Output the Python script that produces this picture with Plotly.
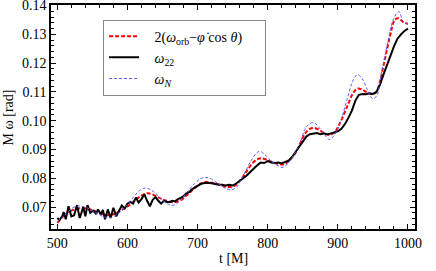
import plotly.graph_objects as go

# ---- data ----
t_black = [500, 503, 507, 509, 512, 516, 520, 524, 528, 532, 535, 537, 540, 543, 547, 551, 555, 558,
           562, 565, 568, 572, 576, 580, 584, 588, 592, 596, 600, 604, 608, 612, 616, 620, 624, 628,
           632, 636, 640, 644, 648, 652, 656, 660, 664, 668, 672, 676, 680, 684, 688, 692, 696, 700,
           705, 710, 715, 720, 725, 730, 735, 740, 745, 750, 755, 760, 765, 770, 775, 780, 785, 790,
           795, 800, 805, 810, 815, 820, 825, 830, 835, 840, 845, 850, 855, 860, 865, 870, 875, 880,
           885, 890, 895, 900, 905, 910, 915, 920, 925, 930, 935, 940, 945, 950, 955, 960, 965, 970,
           975, 980, 985, 990, 995, 1000]
omega_22 = [0.0662, 0.0655, 0.0668, 0.0683, 0.0658, 0.0703, 0.0668, 0.0672, 0.0707, 0.0662, 0.0685,
            0.0700, 0.0668, 0.0707, 0.0680, 0.0688, 0.0678, 0.0692, 0.0675, 0.0690, 0.0658, 0.0692,
            0.0662, 0.0698, 0.0668, 0.0690, 0.0706, 0.0695, 0.0712, 0.0718, 0.0712, 0.0733, 0.0716,
            0.0728, 0.0745, 0.0722, 0.0703, 0.0725, 0.0735, 0.0722, 0.0712, 0.0722, 0.0718, 0.0718,
            0.0722, 0.0720, 0.0728, 0.0732, 0.0738, 0.0748, 0.0752, 0.0762, 0.0768, 0.0775, 0.0781,
            0.0784, 0.0785, 0.0783, 0.0780, 0.0778, 0.0778, 0.0775, 0.0778, 0.0775, 0.0782, 0.0790,
            0.0800, 0.0810, 0.0822, 0.0835, 0.0845, 0.0855, 0.0853, 0.0860, 0.0855, 0.0853, 0.0855,
            0.0852, 0.0858, 0.0862, 0.0875, 0.0893, 0.0912, 0.0930, 0.0945, 0.0953, 0.0955, 0.0957,
            0.0953, 0.0956, 0.0952, 0.0955, 0.0960, 0.0963, 0.0972, 0.0988, 0.1010, 0.1035, 0.1070,
            0.1090, 0.1093, 0.1092, 0.1095, 0.1093, 0.1100, 0.1125, 0.1160, 0.1190, 0.1225, 0.1258,
            0.1285, 0.1300, 0.1312, 0.1320]

t_red = [500, 505, 510, 515, 520, 530, 540, 550, 560, 570, 580, 590, 600, 610, 620, 628, 635, 645,
         655, 665, 675, 685, 695, 705, 712, 720, 730, 740, 748, 755, 762, 770, 778, 785, 790, 797,
         805, 815, 822, 830, 838, 846, 853, 860, 866, 872, 880, 889, 896, 903, 913, 922, 928, 935,
         942, 950, 955, 960, 965, 974, 981, 986, 990, 995, 1000]
omega_orb_combo = [0.0645, 0.0660, 0.0672, 0.0682, 0.0688, 0.0695, 0.0696, 0.0690, 0.0680, 0.0672,
                   0.0675, 0.0688, 0.0702, 0.0722, 0.0740, 0.0748, 0.0745, 0.0733, 0.0722, 0.0717,
                   0.0723, 0.0742, 0.0765, 0.0782, 0.0787, 0.0785, 0.0779, 0.0771, 0.0770, 0.0778,
                   0.0797, 0.0825, 0.0852, 0.0866, 0.0870, 0.0866, 0.0858, 0.0850, 0.0848, 0.0860,
                   0.0882, 0.0920, 0.0955, 0.0972, 0.0975, 0.0970, 0.0958, 0.0951, 0.0962, 0.0992,
                   0.1048, 0.1097, 0.1112, 0.1108, 0.1098, 0.1092, 0.1100, 0.1135, 0.1190, 0.1290,
                   0.1350, 0.1356, 0.1350, 0.1340, 0.1337]

t_blue = [500, 507, 515, 522, 530, 540, 550, 560, 570, 578, 588, 598, 608, 617, 625, 632, 640, 650,
          660, 667, 675, 685, 695, 705, 712, 720, 730, 740, 748, 755, 762, 770, 778, 785, 790, 797,
          805, 815, 822, 830, 838, 846, 853, 860, 866, 872, 880, 888, 895, 903, 913, 922, 928, 935,
          942, 950, 956, 962, 970, 979, 987, 993, 1000]
omega_N = [0.0650, 0.0665, 0.0683, 0.0697, 0.0704, 0.0700, 0.0688, 0.0673, 0.0664, 0.0665, 0.0680,
           0.0703, 0.0733, 0.0757, 0.0766, 0.0762, 0.0748, 0.0724, 0.0708, 0.0707, 0.0722, 0.0752,
           0.0780, 0.0800, 0.0803, 0.0797, 0.0780, 0.0765, 0.0760, 0.0768, 0.0795, 0.0833, 0.0868,
           0.0890, 0.0893, 0.0880, 0.0860, 0.0843, 0.0838, 0.0855, 0.0885, 0.0922, 0.0970, 0.0990,
           0.0993, 0.0980, 0.0955, 0.0935, 0.0950, 0.0990, 0.1073, 0.1142, 0.1160, 0.1145, 0.1108,
           0.1076, 0.1090, 0.1165, 0.1258, 0.1351, 0.1379, 0.1345, 0.1335]

x_ticks = [500, 600, 700, 800, 900, 1000]
y_ticks = [0.07, 0.08, 0.09, 0.10, 0.11, 0.12, 0.13, 0.14]
y_tick_labels = ["0.07", "0.08", "0.09", "0.10", "0.11", "0.12", "0.13", "0.14"]

names = ["&#160;&#160;&#160;2(<i>ω</i><sub>orb</sub>−<i>φ̇</i>&#160;cos&#160;<i>θ</i>)&#160;&#160;&#160;&#160;&#160;",
         "&#160;&#160;&#160;<i>ω</i><sub>22</sub>",
         "&#160;&#160;&#160;<i>ω</i><sub><i>N</i></sub>"]

FONT = "Liberation Serif, Times New Roman, serif"

fig = go.Figure()
fig.add_trace(go.Scatter(x=t_red, y=omega_orb_combo, mode="lines", name=names[0],
                         line=dict(color="#ff0000", width=2, dash="4px,2px", shape="spline")))
fig.add_trace(go.Scatter(x=t_black, y=omega_22, mode="lines", name=names[1],
                         line=dict(color="black", width=2)))
fig.add_trace(go.Scatter(x=t_blue, y=omega_N, mode="lines", name=names[2],
                         line=dict(color="#5a5aff", width=1, dash="3px,2px", shape="spline")))

axis_common = dict(showgrid=False, zeroline=False, showline=True, linecolor="black", linewidth=1.5,
                   mirror="allticks", ticks="inside", ticklen=5, tickwidth=1, tickcolor="black",
                   automargin=False, ticklabeloverflow="allow",
                   tickfont=dict(family=FONT, size=14, color="black"))

fig.update_xaxes(range=[491, 1010], tickvals=x_ticks,
                 minor=dict(ticks="inside", dtick=20, ticklen=3, tickcolor="black", tickwidth=1,
                            showgrid=False),
                 **axis_common)
fig.update_yaxes(range=[0.0624, 0.1402], tickvals=y_ticks, ticktext=y_tick_labels,
                 minor=dict(ticks="inside", dtick=0.002, tick0=0.06, ticklen=3, tickcolor="black",
                            tickwidth=1, showgrid=False),
                 **axis_common)

fig.add_annotation(text="t [M]", xref="paper", yref="paper", x=0.5, y=-0.13,
                   xanchor="center", yanchor="middle", showarrow=False,
                   font=dict(family=FONT, size=14, color="black"))
fig.add_annotation(text="M ω [rad]", xref="paper", yref="paper", x=-0.117, y=0.5,
                   xanchor="center", yanchor="middle", showarrow=False, textangle=-90,
                   font=dict(family=FONT, size=14, color="black"))

fig.update_layout(
    width=436, height=271,
    margin=dict(l=51, r=21, t=5, b=42),
    paper_bgcolor="white", plot_bgcolor="white",
    font=dict(family=FONT, size=14, color="black"),
    legend=dict(x=0.143, y=0.935, xanchor="left", yanchor="top",
                bgcolor="white", bordercolor="#888888", borderwidth=1,
                font=dict(family=FONT, size=14, color="black"),
                itemwidth=30, tracegroupgap=0),
)

fig.write_html("out.html", config={"displayModeBar": False},
               post_script="document.body.style.margin='0';document.body.style.padding='0';")
